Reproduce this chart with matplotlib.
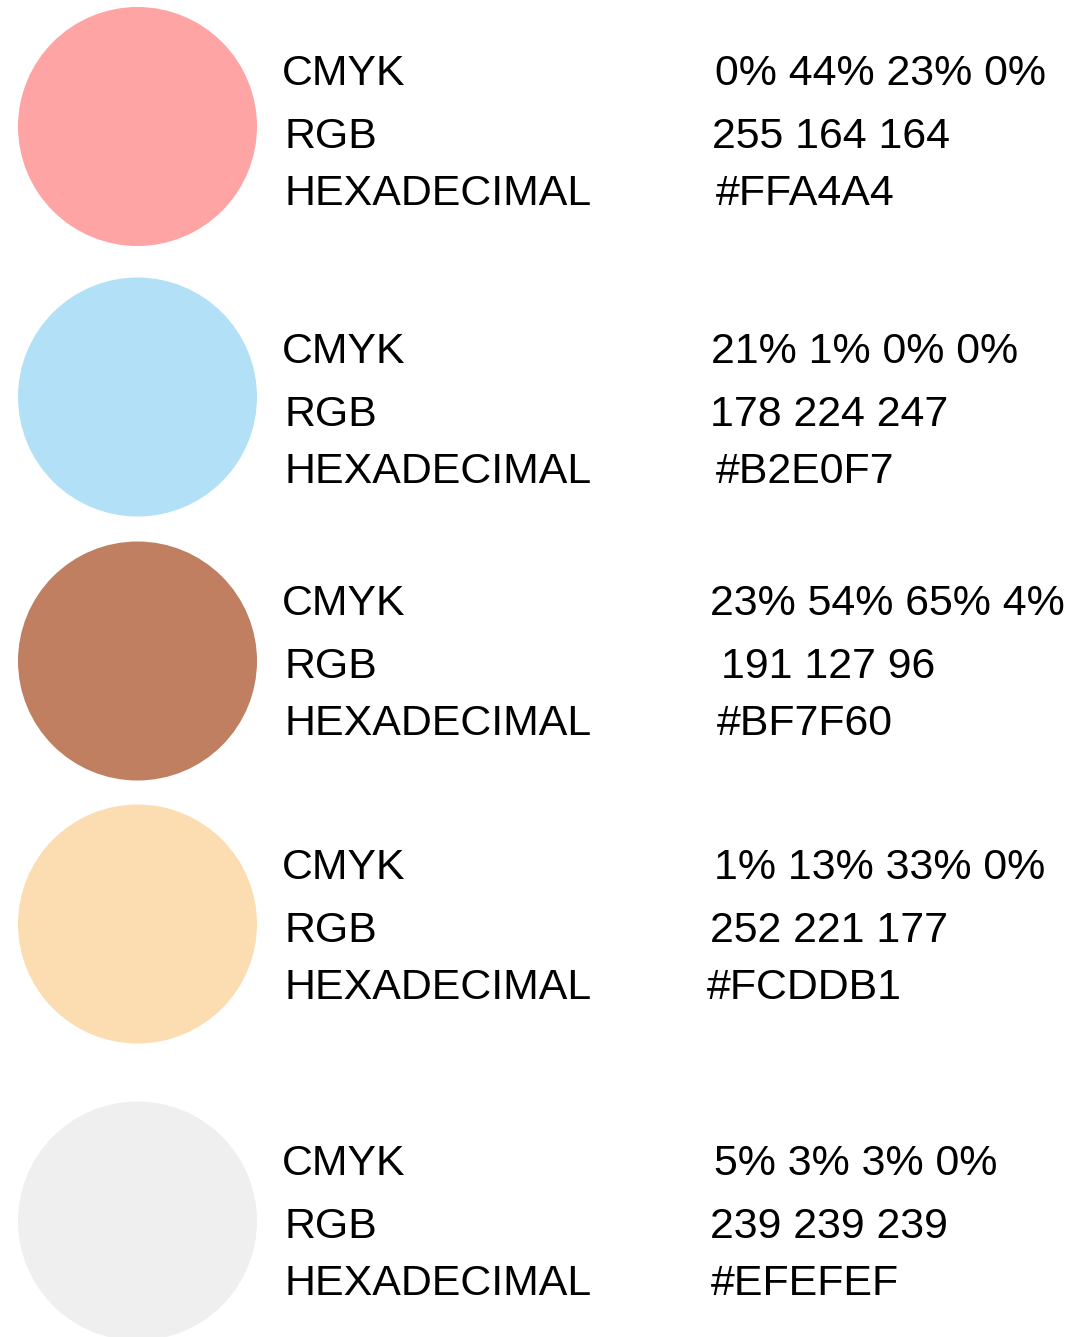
import matplotlib.pyplot as plt
from matplotlib.patches import Circle

plt.rcParams['font.family'] = ['Liberation Sans', 'DejaVu Sans']

# palette data
hex_codes = ['#FFA4A4', '#B2E0F7', '#BF7F60', '#FCDDB1', '#EFEFEF']
cmyk = ['0% 44% 23% 0%', '21% 1% 0% 0%', '23% 54% 65% 4%', '1% 13% 33% 0%', '5% 3% 3% 0%']
rgb = ['255 164 164', '178 224 247', '191 127 96', '252 221 177', '239 239 239']
labels = ['CMYK', 'RGB', 'HEXADECIMAL']

# layout (pixel coordinates)
W, H = 1076, 1337
circle_y = [126.5, 397, 661, 924, 1221]
circle_x, radius = 137.5, 119.5
row_base = [85, 363, 615, 879, 1175]
line_off = [0, 63, 120]
label_x = [282, 284, 285]
value_x = [[715, 712, 716],
           [711, 710, 716],
           [710, 721, 717],
           [714, 710, 707],
           [714, 710, 711]]
fs = 30.9

fig = plt.figure(figsize=(W / 100, H / 100), dpi=100)
ax = fig.add_axes([0, 0, 1, 1])
ax.set_xlim(0, W)
ax.set_ylim(H, 0)
ax.axis('off')

for i, col in enumerate(hex_codes):
    ax.add_patch(Circle((circle_x, circle_y[i]), radius, color=col, lw=0))
    values = [cmyk[i], rgb[i], col]
    for j in range(3):
        y = row_base[i] + line_off[j]
        ax.text(label_x[j], y, labels[j], fontsize=fs, va='baseline', ha='left', color='black')
        ax.text(value_x[i][j], y, values[j], fontsize=fs, va='baseline', ha='left', color='black')

fig.savefig('out.png', dpi=100, facecolor='white')
